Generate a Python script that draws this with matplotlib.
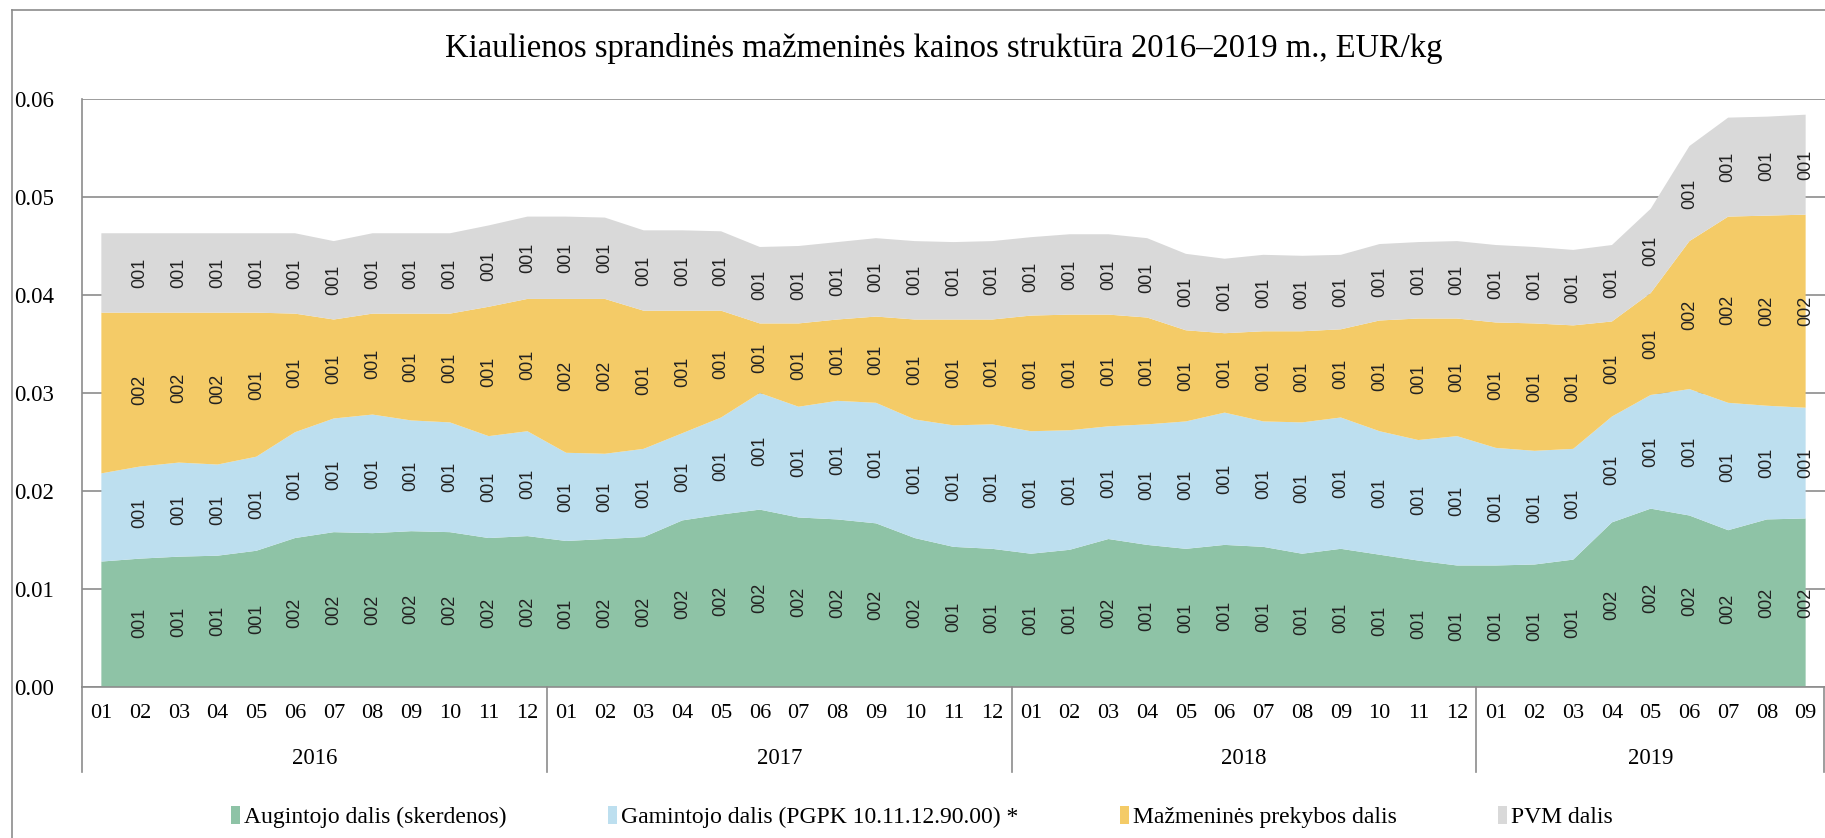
import matplotlib
matplotlib.use("Agg")
import matplotlib.pyplot as plt
from matplotlib.lines import Line2D
from matplotlib.patches import Patch
import numpy as np

# month / year categories
years = ["2016", "2017", "2018", "2019"]
months_per_year = [12, 12, 12, 9]
month_labels = [f"{m:02d}" for n in months_per_year for m in range(1, n + 1)]

# EUR/kg shares, one value per month
augintojo = [0.0128, 0.0131, 0.0133, 0.0134, 0.0139, 0.0152, 0.0158, 0.0157, 0.0159, 0.0158, 0.0152, 0.0154,
             0.0149, 0.0151, 0.0153, 0.0170, 0.0176, 0.0181, 0.0173, 0.0171, 0.0167, 0.0152, 0.0143, 0.0141,
             0.0136, 0.0140, 0.0151, 0.0145, 0.0141, 0.0145, 0.0143, 0.0136, 0.0141, 0.0135, 0.0129, 0.0124,
             0.0124, 0.0125, 0.0130, 0.0168, 0.0182, 0.0175, 0.0160, 0.0171, 0.0172]
gamintojo = [0.0090, 0.0094, 0.0096, 0.0093, 0.0096, 0.0108, 0.0116, 0.0121, 0.0113, 0.0112, 0.0104, 0.0107,
             0.0090, 0.0087, 0.0090, 0.0089, 0.0099, 0.0119, 0.0113, 0.0121, 0.0123, 0.0121, 0.0124, 0.0127,
             0.0125, 0.0122, 0.0115, 0.0123, 0.0130, 0.0135, 0.0128, 0.0134, 0.0134, 0.0126, 0.0123, 0.0132,
             0.0120, 0.0116, 0.0113, 0.0108, 0.0116, 0.0129, 0.0130, 0.0116, 0.0113]
mazmenines = [0.0164, 0.0157, 0.0153, 0.0155, 0.0147, 0.0121, 0.0101, 0.0103, 0.0109, 0.0111, 0.0132, 0.0135,
              0.0157, 0.0158, 0.0141, 0.0125, 0.0109, 0.0071, 0.0085, 0.0083, 0.0088, 0.0102, 0.0108, 0.0107,
              0.0118, 0.0118, 0.0114, 0.0109, 0.0093, 0.0081, 0.0092, 0.0093, 0.0090, 0.0113, 0.0124, 0.0120,
              0.0128, 0.0130, 0.0126, 0.0097, 0.0104, 0.0151, 0.0190, 0.0194, 0.0197]
pvm = [0.0081, 0.0081, 0.0081, 0.0081, 0.0081, 0.0082, 0.0080, 0.0082, 0.0082, 0.0082, 0.0083, 0.0084,
       0.0084, 0.0083, 0.0082, 0.0082, 0.0081, 0.0078, 0.0079, 0.0079, 0.0080, 0.0080, 0.0079, 0.0080,
       0.0080, 0.0082, 0.0082, 0.0081, 0.0078, 0.0076, 0.0078, 0.0077, 0.0076, 0.0078, 0.0078, 0.0079,
       0.0079, 0.0078, 0.0077, 0.0078, 0.0086, 0.0097, 0.0101, 0.0101, 0.0102]

series_names = ["Augintojo dalis (skerdenos)", "Gamintojo dalis (PGPK 10.11.12.90.00) *",
                "Mažmeninės prekybos dalis", "PVM dalis"]
colors = ["#8EC3A6", "#BDDFEF", "#F4CB67", "#D9D9D9"]
title = "Kiaulienos sprandinės mažmeninės kainos struktūra 2016–2019 m., EUR/kg"

serif = "Liberation Serif"
sans = "Liberation Sans"
grey = "#8C8C8C"

fig = plt.figure(figsize=(18.25, 8.38), dpi=100)
ax = fig.add_axes([82 / 1825, 151 / 838, 1743 / 1825, 588 / 838])

x = np.arange(len(month_labels))
data = [augintojo, gamintojo, mazmenines, pvm]
ax.stackplot(x, *data, colors=colors, linewidth=0)

# value labels in the middle of each band (first month has none in the original)
bottom = np.zeros(len(x))
for vals in data:
    vals = np.array(vals)
    for i in range(1, len(x)):
        ax.text(x[i], bottom[i] + vals[i] / 2, f"{vals[i]:.2f}".replace(".", ""),
                rotation=90, ha="center", va="center", fontsize=13, family=sans, color="#222222")
    bottom += vals

ax.set_xlim(-0.5, len(x) - 0.5)
ax.set_ylim(0, 0.06)
ax.set_yticks(np.arange(0, 0.061, 0.01))
ax.set_yticklabels([f"{v:.2f}" for v in np.arange(0, 0.061, 0.01)], family=serif, fontsize=16.5)
ax.set_xticks(x)
ax.set_xticklabels(month_labels, family=serif, fontsize=16)
ax.tick_params(axis="y", length=0, pad=20)
ax.tick_params(axis="x", length=0, pad=12)
ax.grid(axis="y", color=grey, linewidth=1.2)
ax.set_axisbelow(True)
for s in ["top", "right"]:
    ax.spines[s].set_visible(False)
for s in ["left", "bottom"]:
    ax.spines[s].set_color(grey)
    ax.spines[s].set_linewidth(1.2)

# year row and separators
trans = ax.get_xaxis_transform()
start = 0
for yr, n in zip(years, months_per_year):
    ax.text(start + (n - 1) / 2, -0.121, yr, transform=trans, ha="center", va="center",
            family=serif, fontsize=16.5)
    ax.plot([start - 0.5, start - 0.5], [0, -0.145], transform=trans, color=grey,
            linewidth=1.2, clip_on=False)
    start += n
ax.plot([start - 0.52, start - 0.52], [0, -0.145], transform=trans, color=grey,
        linewidth=1.2, clip_on=False)

fig.text(944 / 1825, 1 - 48 / 838, title, ha="center", va="center", family=serif, fontsize=23.5)

# outer chart border (cropped at right and bottom)
fig.add_artist(Line2D([12 / 1825, 12 / 1825], [0, 1 - 10 / 838], color=grey, linewidth=1.2))
fig.add_artist(Line2D([12 / 1825, 1], [1 - 10 / 838, 1 - 10 / 838], color=grey, linewidth=1.2))

handles = [Patch(facecolor=c, edgecolor="none") for c in colors]
fig.legend(handles, series_names, loc="center", bbox_to_anchor=(0.505, 21 / 838), ncol=4,
           frameon=False, prop={"family": serif, "size": 17}, handlelength=0.4,
           handleheight=0.8, handletextpad=0.15, columnspacing=4.3)

fig.savefig("out.png", dpi=100)
